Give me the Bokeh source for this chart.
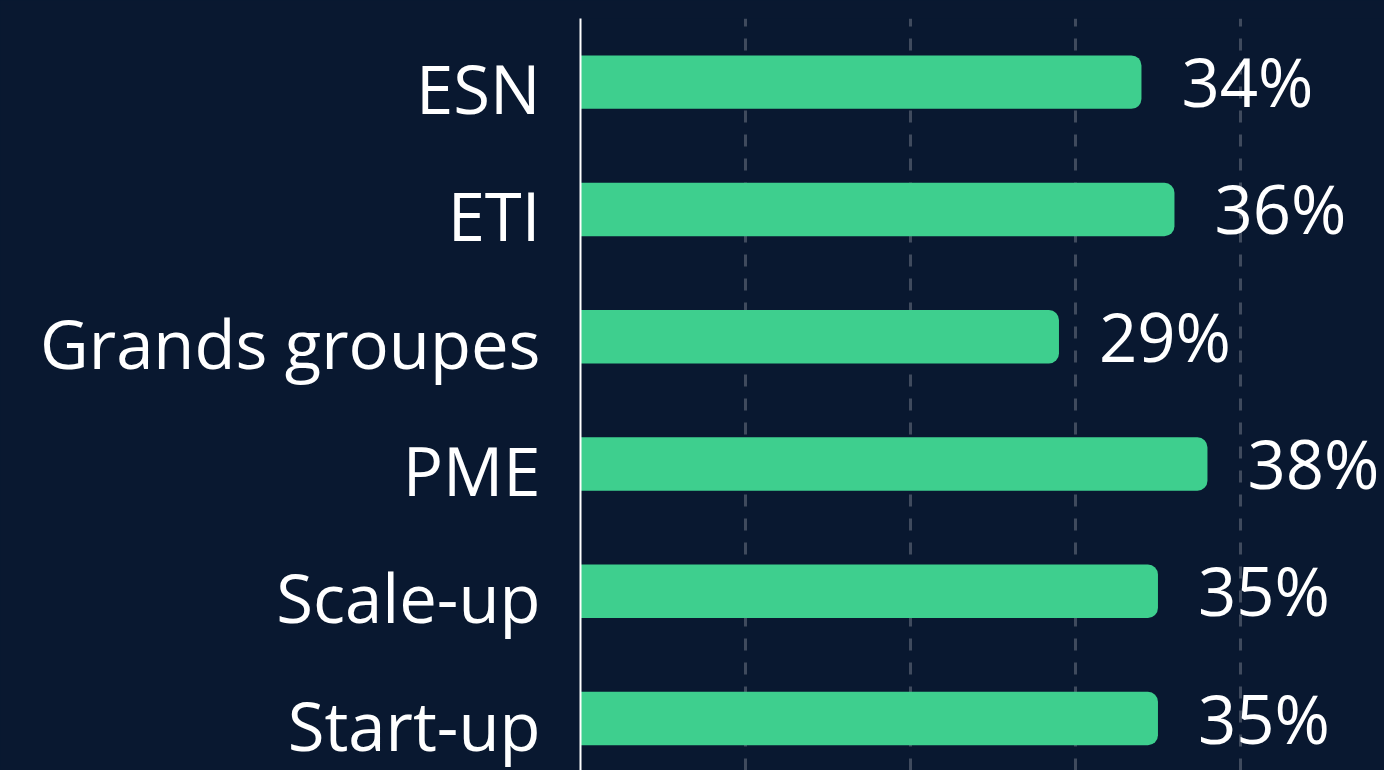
from bokeh.plotting import figure
from bokeh.models import Range1d, FixedTicker, ColumnDataSource, LinearAxis
from bokeh.core.properties import value
from bokeh.embed import file_html
from bokeh.resources import INLINE

categories = ["ESN", "ETI", "Grands groupes", "PME", "Scale-up", "Start-up"]
values = [34, 36, 29, 38, 35, 35]
grid_ticks = [10, 20, 30, 40]

BG = "#091830"
GREEN = "#3ecf8e"
FONT = "Open Sans"
FS = "67px"

n = len(categories)
ypos = [n - 1 - i for i in range(n)]
labels = [f"{v}%" for v in values]
src = ColumnDataSource(dict(y=ypos, v=values, lab=labels))

Y0, Y1 = -0.408, n - 0.5
SHIFT = 6 / 127.2  # category labels sit slightly below the bar centres

p = figure(width=1384, height=770, output_backend="svg", toolbar_location=None,
           x_range=Range1d(0, 48.73), y_range=Range1d(Y0, Y1), y_axis_location=None,
           min_border_left=580, min_border_right=0, min_border_top=18, min_border_bottom=0)
p.background_fill_color = BG
p.border_fill_color = BG
p.outline_line_color = None
p.extra_y_ranges = {"lab": Range1d(Y0 + SHIFT, Y1 + SHIFT)}

p.hbar(y="y", right="v", left=0, height=0.42, source=src, fill_color=GREEN,
       line_color=None, border_radius=(0, 10, 10, 0))
p.text(x="v", y="y", text="lab", source=src, x_offset=40, y_offset=-1, text_baseline="middle",
       text_align="left", text_color="white", text_font=value(FONT), text_font_size=FS)

ya = LinearAxis(y_range_name="lab", ticker=FixedTicker(ticks=ypos))
ya.major_label_overrides = {y: c for y, c in zip(ypos, categories)}
ya.axis_line_color = "white"
ya.axis_line_width = 2
ya.major_tick_line_color = None
ya.minor_tick_line_color = None
ya.major_label_standoff = 34
ya.major_label_text_color = "white"
ya.major_label_text_font = FONT
ya.major_label_text_font_size = FS
p.add_layout(ya, "left")

p.xaxis.visible = False
p.xgrid.ticker = FixedTicker(ticks=grid_ticks)
p.xgrid.grid_line_color = "#ffffff"
p.xgrid.grid_line_alpha = 0.22
p.xgrid.grid_line_width = 3
p.xgrid.grid_line_dash = "12 12"
p.ygrid.visible = False

html = file_html(p, INLINE)
style = f"<style>html,body{{margin:0;padding:0;background:{BG};overflow:hidden;}}</style>"
html = html.replace("</head>", style + "</head>", 1)
open("out.html", "w").write(html)
